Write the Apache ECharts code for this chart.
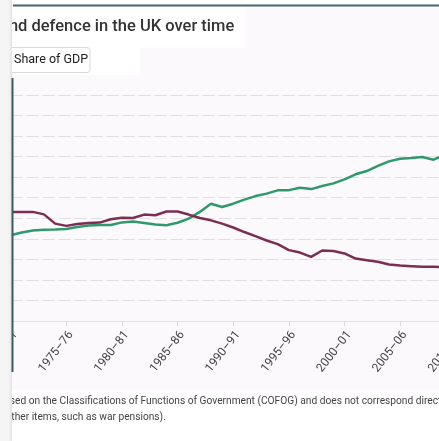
<!DOCTYPE html>
<html>
<head>
<meta charset="utf-8">
<script src="https://cdn.jsdelivr.net/npm/echarts@6/dist/echarts.min.js"></script>
<style>
  html, body { margin: 0; padding: 0; background: #ffffff; overflow: hidden; }
  #chart { width: 480px; height: 441px; }
</style>
</head>
<body>
<div id="chart"></div>
<script>
// Financial years shown on the x axis
const years = [
  '1970–71','1971–72','1972–73','1973–74','1974–75','1975–76','1976–77','1977–78','1978–79','1979–80',
  '1980–81','1981–82','1982–83','1983–84','1984–85','1985–86','1986–87','1987–88','1988–89','1989–90',
  '1990–91','1991–92','1992–93','1993–94','1994–95','1995–96','1996–97','1997–98','1998–99','1999–00',
  '2000–01','2001–02','2002–03','2003–04','2004–05','2005–06','2006–07','2007–08','2008–09','2009–10',
  '2010–11'
];

// Health spending, % of GDP
const health = [
  4.17, 4.31, 4.40, 4.44, 4.45, 4.48, 4.57, 4.65, 4.67, 4.67,
  4.80, 4.84, 4.77, 4.70, 4.66, 4.78, 4.98, 5.31, 5.71, 5.55,
  5.71, 5.91, 6.08, 6.20, 6.36, 6.37, 6.49, 6.42, 6.57, 6.70,
  6.89, 7.14, 7.30, 7.55, 7.77, 7.90, 7.93, 7.98, 7.85, 8.08,
  8.10
];

// Defence spending, % of GDP
const defence = [
  5.31, 5.31, 5.31, 5.19, 4.74, 4.63, 4.72, 4.77, 4.79, 4.95,
  5.03, 5.01, 5.18, 5.15, 5.33, 5.33, 5.18, 5.01, 4.90, 4.74,
  4.55, 4.33, 4.13, 3.92, 3.74, 3.45, 3.33, 3.12, 3.43, 3.41,
  3.29, 3.04, 2.96, 2.88, 2.75, 2.70, 2.67, 2.64, 2.64, 2.62,
  2.60
];

const FONT = 'Roboto, "Noto Sans", sans-serif';
const W = 480;
const H = 441;

const chart = echarts.init(document.getElementById('chart'), null, { renderer: 'canvas', width: W, height: H });

chart.setOption({
  backgroundColor: '#fcf9fd',
  animation: false,
  title: {
    text: 'and defence in the UK over time',
    left: 0,
    top: 18,
    padding: 0,
    textStyle: { fontFamily: FONT, fontSize: 16.5, fontWeight: 500, color: '#333333' }
  },
  grid: {
    left: 10.6, right: W - 455.8, top: 95, bottom: 120,
    containLabel: false,
    outerBoundsMode: 'none'
  },
  xAxis: {
    type: 'category',
    data: years,
    boundaryGap: false,
    axisLine: { lineStyle: { color: '#e4e1e5', width: 1 } },
    axisTick: { interval: 4, length: 5, lineStyle: { color: '#dcd9dd' } },
    axisLabel: {
      interval: 4,
      rotate: 52,
      align: 'right',
      verticalAlign: 'top',
      margin: 8,
      fontFamily: FONT,
      fontSize: 12,
      color: '#444444'
    },
    splitLine: { show: false }
  },
  yAxis: {
    type: 'value',
    min: 0,
    max: 11,
    interval: 1,
    axisLine: { show: false },
    axisTick: { show: false },
    axisLabel: { show: false },
    splitLine: { lineStyle: { color: '#e2dfe3', type: [12, 4], width: 1 } }
  },
  series: [
    {
      name: 'Health',
      type: 'line',
      data: health,
      showSymbol: false,
      lineStyle: { color: '#2e9a6c', width: 2.5 },
      itemStyle: { color: '#2e9a6c' }
    },
    {
      name: 'Defence',
      type: 'line',
      data: defence,
      showSymbol: false,
      lineStyle: { color: '#7c2e52', width: 2.5 },
      itemStyle: { color: '#7c2e52' }
    }
  ],
  graphic: [
    // page strip above the card
    { type: 'rect', shape: { x: 0, y: 0, width: W, height: 5 }, style: { fill: '#ffffff' }, z: 50 },
    { type: 'rect', shape: { x: 13, y: 4.5, width: W, height: 2 }, style: { fill: '#46656f' }, z: 60 },
    // white panels behind the heading and the toggle
    { type: 'rect', shape: { x: 13, y: 6.5, width: 232, height: 41 }, style: { fill: '#ffffff' }, z: -1 },
    { type: 'rect', shape: { x: 13, y: 47, width: 127, height: 28 }, style: { fill: '#ffffff' }, z: -1 },
    // notes area
    { type: 'rect', shape: { x: 0, y: 390, width: W, height: 51 }, style: { fill: '#ffffff' }, z: -1 },
    // toggle button
    {
      type: 'rect',
      shape: { x: 5, y: 47.5, width: 85, height: 25, r: 3 },
      style: { fill: '#ffffff', stroke: '#d9d9d9', lineWidth: 1 },
      z: 5
    },
    {
      type: 'text',
      x: 14, y: 60,
      style: { text: 'Share of GDP', fontFamily: FONT, fontSize: 12.5, fill: '#222222', verticalAlign: 'middle' },
      z: 6
    },
    // notes
    {
      type: 'text',
      x: -1.5, y: 401.5,
      style: {
        text: 'based on the Classifications of Functions of Government (COFOG) and does not correspond directly',
        fontFamily: FONT, fontSize: 10.2, fill: '#444444', verticalAlign: 'middle'
      },
      z: 5
    },
    {
      type: 'text',
      x: 5.5, y: 417,
      style: { text: 'other items, such as war pensions).', fontFamily: FONT, fontSize: 10.2, fill: '#444444', verticalAlign: 'middle' },
      z: 5
    },
    // left page margin and card border
    { type: 'rect', shape: { x: 0, y: 0, width: 12, height: H }, style: { fill: '#f5f5f5' }, z: 100 },
    {
      type: 'rect', shape: { x: 8, y: 0, width: 4, height: H },
      style: { fill: new echarts.graphic.LinearGradient(0, 0, 1, 0, [
        { offset: 0, color: 'rgba(235,235,235,0)' }, { offset: 1, color: 'rgba(225,225,225,1)' }
      ]) },
      z: 101
    },
    { type: 'rect', shape: { x: 11.5, y: 78, width: 2, height: 294 }, style: { fill: '#3c5b62' }, z: 102 }
  ]
});
</script>
</body>
</html>
